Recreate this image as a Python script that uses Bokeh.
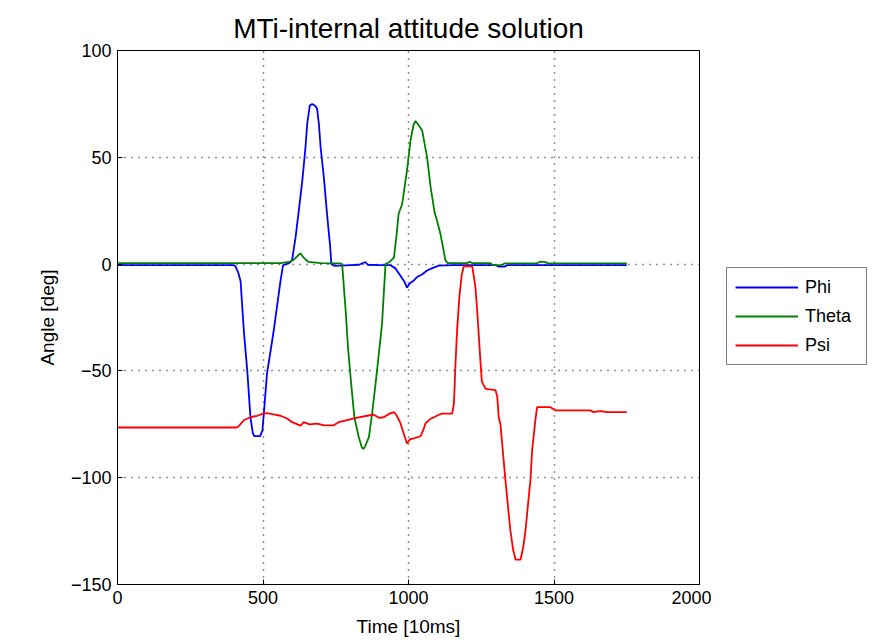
from bokeh.plotting import figure
from bokeh.models import Legend, LegendItem, FixedTicker, Range1d
from bokeh.layouts import row
from bokeh.embed import file_html
from bokeh.resources import INLINE

# ---- data (time in 10 ms units, angle in degrees) ----
phi_t = [0, 400, 405, 415, 423, 434, 446, 457, 465, 470, 490, 498, 514, 537, 560, 569, 580, 590, 600,
         612, 623, 635, 646, 652, 661, 669, 680, 686, 692, 698, 709, 721, 730, 735, 745, 800, 830, 852,
         860, 900, 938, 955, 970, 985, 995, 1005, 1018, 1030, 1045, 1064, 1080, 1104, 1150, 1300, 1310,
         1330, 1340, 1750]
phi_a = [-0.5, -0.5, -1, -4, -8, -31, -50, -72, -79, -80.5, -80.5, -78, -51, -31, -8, -0.5, 0, 0.5, 2,
         12.6, 25, 39, 54.7, 65.8, 74.3, 75, 74, 72.7, 65.7, 54.7, 40.7, 22, 9.5, 0, -0.8, -0.5, -0.3, 1,
         -0.3, -0.5, -0.5, -2, -5, -8, -11, -9, -7.7, -6, -5, -3, -2, -0.7, -0.5, -0.5, -1.2,
         -1.2, -0.5, -0.5]

theta_t = [0, 560, 590, 605, 620, 629, 640, 656, 700, 765, 772, 784, 792, 803, 814, 829, 840, 846, 852,
           864, 875, 892, 909, 921, 935, 950, 960, 966, 978, 995, 1007, 1017, 1024, 1035, 1047, 1064,
           1076, 1090, 1098, 1110, 1127, 1135, 1200, 1210, 1220, 1280, 1290, 1320, 1330, 1440, 1450,
           1470, 1480, 1750]
theta_a = [0.5, 0.5, 1, 2, 4, 5, 3, 1, 0.5, 0.3, 0, -21.7, -38.9, -56, -71.7, -81, -86, -86.5, -85,
           -81, -70, -49.8, -28, 0, 1, 3, 15, 23.6, 28, 44, 58, 65, 67, 65, 62.5, 50,
           36, 24, 20.4, 14, 1.7, 0.5, 0.5, 1, 0.5, 0.5, -0.5, -0.5, 0.3, 0.3, 1,
           1, 0.3, 0.3]

psi_t = [0, 410, 416, 435, 457, 480, 500, 514, 540, 560, 583, 600, 629, 640, 660, 686, 710, 743, 760,
         789, 820, 858, 880, 900, 915, 935, 950, 960, 973, 985, 995, 1005, 1018, 1041, 1050, 1058, 1075,
         1087, 1105, 1116, 1150, 1156, 1162, 1167, 1175, 1183, 1190, 1219, 1230, 1236, 1247, 1252, 1265,
         1299, 1305, 1310, 1316, 1328, 1333, 1350, 1360, 1368, 1385, 1395, 1402, 1419, 1425, 1436, 1442,
         1488, 1505, 1625, 1636, 1650, 1660, 1683, 1750]
psi_a = [-76.5, -76.5, -76, -73, -71.7, -71, -70, -69.8, -70.5, -71, -72.3, -74, -75.6, -74, -75, -74.7,
         -75.5, -75.5, -74, -73, -72, -71, -70.5, -72, -71.7, -70, -69.3, -71, -74.7, -80, -84, -82,
         -81.6, -80.6, -78, -74.7, -72.5, -71.7, -70.5, -70, -70, -65.4, -45, -31, -15, -5, -1, -1.1,
         -10.8, -21.7, -45, -55, -58.4, -59, -62, -71.7, -75, -93.5, -101, -124.7, -134, -138.4, -138.4,
         -132, -124.7, -101, -87, -73, -67, -67, -68.5, -68.5, -69.3, -69, -68.8, -69.3, -69.3]

x_ticks = [0, 500, 1000, 1500, 2000]
y_ticks = [-150, -100, -50, 0, 50, 100]

series_names = ["Phi", "Theta", "Psi"]
series_colors = ["#0000ff", "#008000", "#ff0000"]

FONT = "Liberation Sans"

p = figure(width=711, height=644, x_range=Range1d(0, 2000), y_range=Range1d(-150, 100),
           output_backend="svg", toolbar_location=None,
           min_border_left=117, min_border_right=12, min_border_top=50, min_border_bottom=60,
           title="MTi-internal attitude solution")
p.background_fill_color = "white"
p.border_fill_color = "white"
p.outline_line_color = "black"
p.outline_line_width = 1

p.title.align = "center"
p.title.text_font = FONT
p.title.text_font_size = "28px"
p.title.text_font_style = "normal"
p.title.text_color = "black"
p.title.standoff = 14

for t, a, c in zip([phi_t, theta_t, psi_t], [phi_a, theta_a, psi_a], series_colors):
    p.line(t, a, line_color=c, line_width=1.8)

for ax in (p.xaxis[0], p.yaxis[0]):
    ax.major_tick_in = 5
    ax.major_tick_out = 0
    ax.minor_tick_line_color = None
    ax.axis_line_color = "black"
    ax.major_tick_line_color = "black"
    ax.major_label_text_font = FONT
    ax.major_label_text_font_size = "18px"
    ax.major_label_text_color = "black"
    ax.axis_label_text_font = FONT
    ax.axis_label_text_font_size = "19px"
    ax.axis_label_text_font_style = "normal"
    ax.axis_label_text_color = "black"

p.xaxis[0].ticker = FixedTicker(ticks=x_ticks)
p.yaxis[0].ticker = FixedTicker(ticks=y_ticks)
p.xaxis[0].axis_label = "Time [10ms]"
p.yaxis[0].axis_label = "Angle [deg]"
p.xaxis[0].major_label_standoff = 6
p.xaxis[0].axis_label_standoff = 9
p.yaxis[0].major_label_standoff = 6
p.yaxis[0].axis_label_standoff = 10

p.xgrid.ticker = FixedTicker(ticks=x_ticks)
p.ygrid.ticker = FixedTicker(ticks=y_ticks)
for g in (p.xgrid[0], p.ygrid[0]):
    g.grid_line_color = "#222222"
    g.grid_line_dash = "1 6"
    g.grid_line_width = 1.5

# legend panel (separate figure on the right, same colours; proxy lines lie outside its range)
q = figure(width=166, height=644, x_range=Range1d(0, 1), y_range=Range1d(0, 1),
           output_backend="svg", toolbar_location=None, x_axis_type=None, y_axis_type=None,
           min_border_left=0, min_border_right=0, min_border_top=0, min_border_bottom=0)
q.outline_line_color = None
q.xgrid.visible = False
q.ygrid.visible = False
q.background_fill_color = "white"
q.border_fill_color = "white"
proxies = [q.line([5, 6], [5, 6], line_color=c, line_width=1.8) for c in series_colors]

legend = Legend(items=[LegendItem(label=n, renderers=[r]) for n, r in zip(series_names, proxies)],
                location=(15, 219))
legend.label_text_font = FONT
legend.label_text_font_size = "18px"
legend.label_text_color = "black"
legend.glyph_width = 63
legend.glyph_height = 22
legend.label_height = 22
legend.label_width = 53
legend.label_standoff = 7
legend.spacing = 7
legend.padding = 8
legend.margin = 0
legend.border_line_color = "black"
legend.border_line_width = 1
legend.background_fill_color = "white"
q.add_layout(legend, "center")

layout = row(p, q)
open("out.html", "w").write(file_html(layout, INLINE))
